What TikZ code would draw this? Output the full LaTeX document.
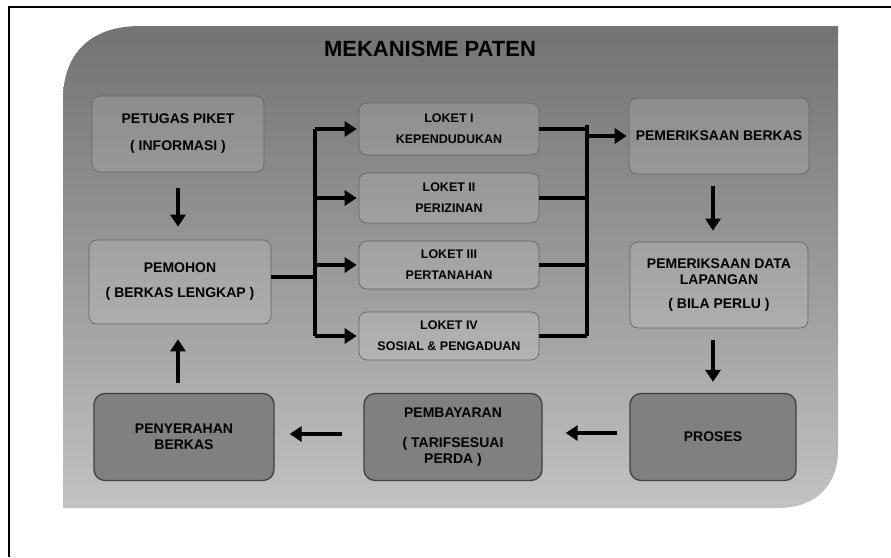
\documentclass[tikz,border=0pt]{standalone}
\usepackage{fontspec}
\setmainfont{Liberation Sans}
\usetikzlibrary{arrows.meta}

\tikzset{
  lbl/.style={font=\bfseries\fontsize{14}{16}\selectfont, text=black, align=center},
  upbox/.style={lbl, draw=black!60, line width=0.7pt, fill=white, fill opacity=0.12,
                text opacity=1, rounded corners=8pt, inner sep=0pt},
  loketbox/.style={upbox, font=\bfseries\fontsize{12.5}{15}\selectfont,
                   minimum width=180pt},
  lowbox/.style={lbl, draw=black!75, line width=1.3pt, fill=black!50,
                 rounded corners=11pt, inner sep=0pt,
                 minimum height=87pt},
  flow/.style={line width=4pt, -{Triangle[width=15pt,length=12pt]}},
  bus/.style={line width=4pt},
}

\begin{document}
\begin{tikzpicture}[x=1pt,y=-1pt]
  \useasboundingbox (0,0) rectangle (891,557);
  \fill[white] (0,0) rectangle (891,557);

  % page frame (top and left rule)
  \draw[line width=1.6pt] (9,557) -- (9,7) -- (891,7);

  % grey panel with two rounded corners
  \shade[top color=black!55, bottom color=black!24, middle color=black!40]
    (63,508) -- (63,100) .. controls (63,52) and (92,26) .. (140,26)
    -- (838,26) -- (838,450) .. controls (838,486) and (815,508) .. (778,508)
    -- cycle;

  % title
  \node[font=\bfseries\fontsize{22}{26}\selectfont] (title) at (430,49)
    {MEKANISME PATEN};

  % left column
  \node[upbox, minimum width=172pt, minimum height=76pt] (petugas) at (178,134)
    {PETUGAS PIKET\\[11pt]( INFORMASI )};
  \node[upbox, minimum width=182pt, minimum height=84pt] (pemohon) at (180,282)
    {PEMOHON\\[9pt]( BERKAS LENGKAP )};

  % counters
  \node[loketbox, minimum height=52pt] (loket1) at (449,129)
    {LOKET I\\[6pt]KEPENDUDUKAN};
  \node[loketbox, minimum height=50pt] (loket2) at (449,198)
    {LOKET II\\[6pt]PERIZINAN};
  \node[loketbox, minimum height=48pt] (loket3) at (449,265)
    {LOKET III\\[6pt]PERTANAHAN};
  \node[loketbox, minimum height=48pt] (loket4) at (449,336)
    {LOKET IV\\[6pt]SOSIAL \& PENGADUAN};

  % right column
  \node[upbox, minimum width=180pt, minimum height=76pt] (berkas) at (719,136)
    {PEMERIKSAAN BERKAS};
  \node[upbox, minimum width=178pt, minimum height=86pt] (lapangan) at (719,285)
    {PEMERIKSAAN DATA\\LAPANGAN\\[8pt]( BILA PERLU )};

  % bottom row
  \node[lowbox, minimum width=180pt] (penyerahan) at (184,437)
    {PENYERAHAN\\BERKAS};
  \node[lowbox, minimum width=178pt] (pembayaran) at (453,437)
    {PEMBAYARAN\\[14pt]( TARIFSESUAI\\PERDA )};
  \node[lowbox, minimum width=166pt] (proses) at (713,437)
    {PROSES};

  % distribution to the counters
  \coordinate (lbus) at (315,277);
  \draw[bus] (pemohon.east |- lbus) -- (lbus);
  \draw[bus] (lbus |- loket1.west) -- (lbus |- loket4.west);
  \foreach \k in {1,2,3,4}
    \draw[flow, shorten >=2pt] (lbus |- loket\k.west) -- (loket\k.west);

  % collection from the counters
  \coordinate (rbus) at (587,125);
  \draw[bus] (rbus) -- (rbus |- loket4.east);
  \foreach \k in {1,2,3,4}
    \draw[bus] (loket\k.east) -- (rbus |- loket\k.east);
  \draw[flow, shorten >=2pt] (rbus |- berkas.west) -- (berkas.west);

  % main flow
  \draw[flow, shorten <=16pt, shorten >=13pt] (petugas.south) -- (petugas.south |- pemohon.north);
  \draw[flow, shorten <=12pt, shorten >=11pt] ([xshift=-6pt]berkas.south) -- ([xshift=-6pt]lapangan.north);
  \draw[flow, shorten <=12pt, shorten >=11pt] (lapangan.south -| proses.north) -- (proses.north);
  \draw[flow, shorten <=12pt, shorten >=23pt] ([yshift=4pt]proses.west) -- ([yshift=4pt]pembayaran.east);
  \draw[flow, shorten <=21pt, shorten >=15pt] ([yshift=3pt]pembayaran.west) -- ([yshift=3pt]penyerahan.east);
  \draw[flow, shorten <=10pt, shorten >=15pt] (penyerahan.north -| petugas.south) -- (pemohon.south -| petugas.south);
\end{tikzpicture}
\end{document}
